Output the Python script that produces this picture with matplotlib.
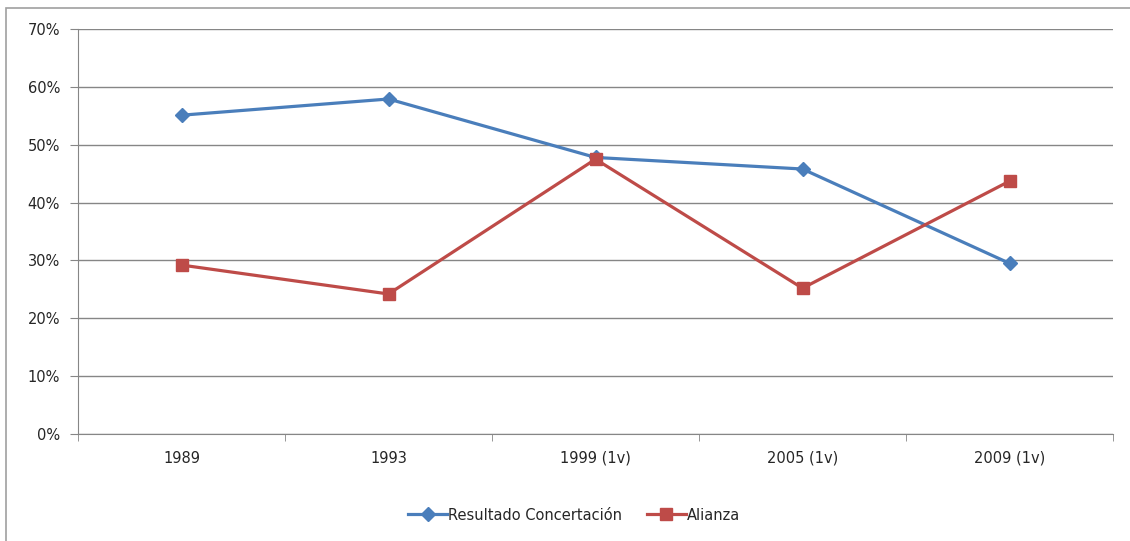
import matplotlib
matplotlib.use("Agg")
import matplotlib.pyplot as plt
from matplotlib.patches import Rectangle
import numpy as np

categories = ["1989", "1993", "1999 (1v)", "2005 (1v)", "2009 (1v)"]
concertacion = [55.1, 57.9, 47.8, 45.8, 29.5]
alianza = [29.2, 24.2, 47.5, 25.2, 43.7]

blue = "#4a7ebb"
red = "#be4b48"
grid_gray = "#868686"
text_gray = "#262626"

plt.rcParams["font.family"] = ["DejaVu Sans"]

fig = plt.figure(figsize=(11.3, 5.41), dpi=100)
ax = fig.add_axes([78 / 1130, 107 / 541, 1035 / 1130, 405 / 541])

# outer chart frame, running past the right and bottom edges
fig.patches.append(Rectangle((6 / 1130, -0.05), 1.2, (541 - 8) / 541 + 0.05,
                             transform=fig.transFigure, fill=False,
                             edgecolor="#a0a0a0", linewidth=1.2, zorder=0))

x = np.arange(len(categories))
ax.plot(x, concertacion, color=blue, linewidth=2.3, marker="D", markersize=7,
        label="Resultado Concertación", zorder=3)
ax.plot(x, alianza, color=red, linewidth=2.3, marker="s", markersize=9,
        label="Alianza", zorder=3)

ax.set_xlim(-0.5, len(categories) - 0.5)
ax.set_ylim(0, 70)
ax.set_yticks(np.arange(0, 71, 10))
ax.set_yticklabels([f"{v}%" for v in range(0, 71, 10)])
ax.yaxis.grid(True, color=grid_gray, linewidth=1)
ax.set_axisbelow(True)

ax.set_xticks(x)
ax.set_xticklabels(categories)
ax.set_xticks(np.arange(-0.5, len(categories)), minor=True)
ax.tick_params(axis="x", which="major", length=0, pad=12, labelsize=10.5,
               labelcolor=text_gray)
ax.tick_params(axis="x", which="minor", length=5, color=grid_gray, direction="out")
ax.tick_params(axis="y", length=6, color=grid_gray, labelsize=10.5,
               labelcolor=text_gray, pad=7)

for side in ["top", "right"]:
    ax.spines[side].set_visible(False)
ax.spines["left"].set_color(grid_gray)
ax.spines["bottom"].set_color(grid_gray)

leg = fig.legend(loc="center", bbox_to_anchor=(574 / 1130, 26 / 541), ncol=2,
                 frameon=False, fontsize=10.5, handlelength=2.7,
                 handletextpad=0.05, columnspacing=1.7, labelcolor=text_gray)

fig.savefig("out.png", dpi=100)
